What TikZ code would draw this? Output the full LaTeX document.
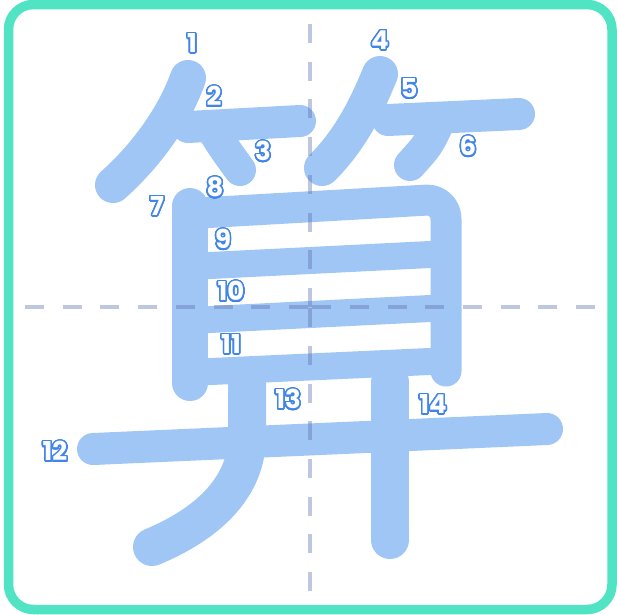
\documentclass[tikz,border=0pt]{standalone}
\usepackage{fontspec}
\setmainfont{Poppins}
\usepackage{contour}
\contourlength{1.5pt}
\contournumber{32}
\usetikzlibrary{positioning}

\definecolor{frame}{RGB}{80,228,196}
\definecolor{ink}{RGB}{160,198,245}
\definecolor{guideblue}{RGB}{96,112,176}
\definecolor{numblue}{RGB}{66,133,232}

\newcommand{\stepnum}[1]{\contour{numblue}{\textcolor{white}{#1}}}

\begin{document}
\begin{tikzpicture}[x=1pt, y=-1pt,
    brush/.style={draw=ink, line width=34pt, line cap=round, line join=round},
    bar/.style={draw=ink, line width=27pt},
    guide/.style={draw=guideblue, draw opacity=0.4, line width=4.5pt, dash pattern=on 19pt off 18.7pt},
    num/.style={font=\bfseries\fontsize{26}{26}\selectfont, inner sep=0pt}
]

% Main layout
\useasboundingbox (0,0) rectangle (617,614);
\draw[frame, line width=9.5pt, rounded corners=25pt] (8.5,4.5) rectangle (612,609.5);

% Bamboo radical
\draw[brush, line width=36pt] (188,78) .. controls (176,112) and (150,152) .. (113,185);
\draw[brush, line width=32pt] (188,127) -- (300,121);
\draw[brush, line width=32pt] (214,132) .. controls (224,148) .. (240,170);
\draw[brush, line width=36pt] (380,74) .. controls (366,108) and (350,140) .. (322,168);
\draw[brush, line width=32pt] (388,120) -- (519,114);
\draw[brush, line width=32pt] (438,124) .. controls (428,145) .. (410,165);

% Box
\draw[brush, line width=36pt] (190,206) -- (190,383);
\draw[brush, line width=31pt, rounded corners=20pt] (200,213) -- (446,199) -- (446,371);
\draw[bar] (200,266) -- (440,254);
\draw[bar] (200,320) -- (440,308);
\draw[bar] (200,372) -- (440,361);

% Bottom part
\draw[brush, line width=32pt] (93,449) -- (547,429);
\draw[brush, line width=38pt] (247,382) -- (247,440) .. controls (245,490) and (205,525) .. (152,547);
\draw[brush, line width=38pt] (390,382) -- (390,540);

% Guides
\draw[guide] (310,24) -- (310,307);
\draw[guide] (310,591) -- (310,307);
\draw[guide] (25,307) -- (310,307);
\draw[guide] (595,307) -- (310,307);

% Stroke numbers
\node[num] (n1) at (192,44) {\stepnum{1}};
\node[num] (n2) at (214,97) {\stepnum{2}};
\node[num] (n3) at (263,152) {\stepnum{3}};
\node[num] (n4) at (380,41) {\stepnum{4}};
\node[num] (n5) at (409,89) {\stepnum{5}};
\node[num] (n6) at (468,147) {\stepnum{6}};
\node[num] (n7) at (157,207) {\stepnum{7}};
\node[num] (n8) at (215,188) {\stepnum{8}};
\node[num] (n9) at (223,240) {\stepnum{9}};
\node[num] (n10) at (231,292) {\stepnum{10}};
\node[num] (n11) at (231,345) {\stepnum{11}};
\node[num] (n12) at (55,452) {\stepnum{12}};
\node[num] (n13) at (288,400) {\stepnum{13}};
\node[num] (n14) at (433,405) {\stepnum{14}};

\end{tikzpicture}
\end{document}
